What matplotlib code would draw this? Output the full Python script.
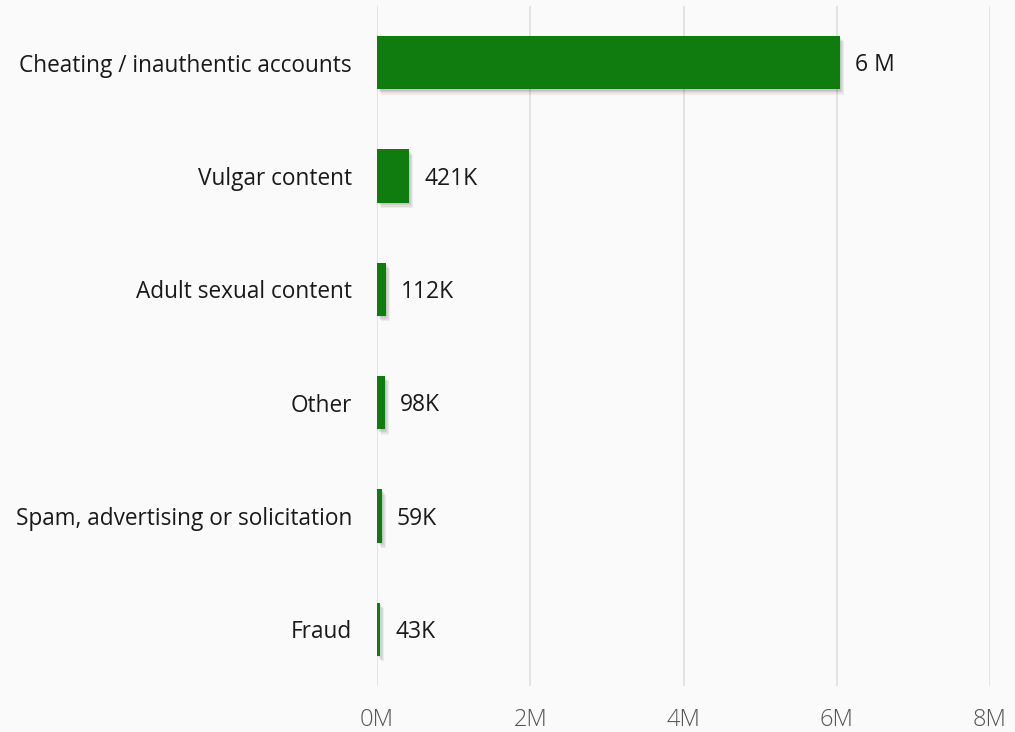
import matplotlib
matplotlib.use("Agg")
import matplotlib.pyplot as plt
import matplotlib.patheffects as pe
from matplotlib.ticker import FuncFormatter

categories = ["Cheating / inauthentic accounts", "Vulgar content", "Adult sexual content",
              "Other", "Spam, advertising or solicitation", "Fraud"]
values = [6040000, 421000, 112000, 98000, 59000, 43000]
value_labels = ["6 M", "421K", "112K", "98K", "59K", "43K"]
xticks = [0, 2e6, 4e6, 6e6, 8e6]

plt.rcParams['font.family'] = ['Open Sans', 'DejaVu Sans']
bg = "#fafafa"
fig = plt.figure(figsize=(10.15, 7.32), dpi=100, facecolor=bg)
ax = fig.add_axes([377/1015, 1-686/732, 613/1015, 680/732], facecolor=bg)

y = list(range(len(categories)))
bars = ax.barh(y, values, height=0.47, color="#107c10", zorder=3)
shadow = [pe.SimplePatchShadow(offset=(o, -1.3 * o), shadow_rgbFace="#000000", alpha=0.06)
          for o in (3.0, 2.2, 1.5, 0.8)]
for b in bars:
    b.set_path_effects(shadow + [pe.Normal()])

for yi, v, lab in zip(y, values, value_labels):
    ax.annotate(lab, (v, yi), xytext=(11, -2), textcoords="offset points",
                va="center", ha="left", fontsize=16.5, color="#1a1a1a")

ax.set_xlim(0, 8e6)
ax.set_ylim(len(categories) - 0.5, -0.5)
ax.set_xticks(xticks)
ax.xaxis.set_major_formatter(FuncFormatter(lambda v, p: f"{int(v/1e6)}M"))
ax.set_yticks(y)
ax.set_yticklabels(categories, fontsize=16.3, color="#1a1a1a")
ax.tick_params(axis="y", length=0, pad=18)
ax.tick_params(axis="x", length=0, pad=16, labelsize=17, labelcolor="#555555")
for t in ax.get_xticklabels():
    t.set_fontweight("light")
ax.grid(axis="x", color="#dcdcdc", linewidth=1.1, zorder=0)
for s in ax.spines.values():
    s.set_visible(False)

fig.savefig("out.png", dpi=100, facecolor=bg)
